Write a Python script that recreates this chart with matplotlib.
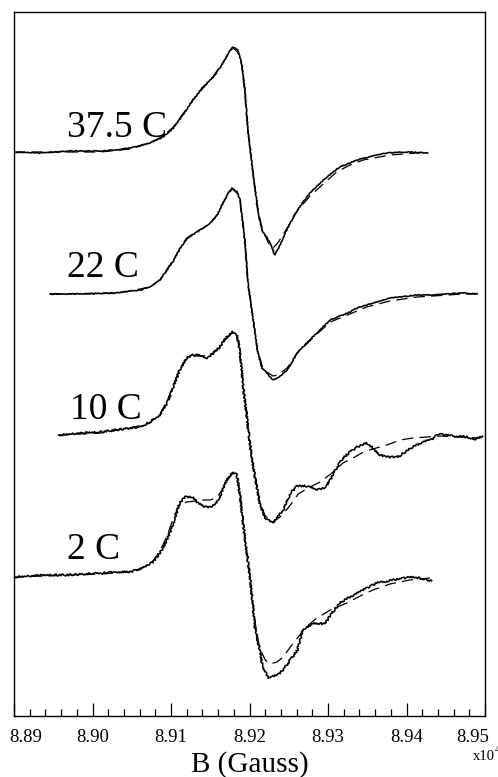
import matplotlib
matplotlib.use("Agg")
import matplotlib.pyplot as plt
from matplotlib.transforms import ScaledTranslation
import numpy as np

plt.rcParams['font.family'] = ['Liberation Serif', 'DejaVu Serif']

# ---------------- data (field in units of 1e4 Gauss, signal in arbitrary units) ----------------
labels = ["37.5 C", "22 C", "10 C", "2 C"]
offsets = [564, 422, 282, 141]

# 37.5 C
b1 = [8.8900, 8.8933, 8.8971, 8.9010, 8.9029, 8.9048, 8.9064, 8.9073, 8.9090, 8.9103, 8.9115, 8.9128,
      8.9141, 8.9154, 8.9165, 8.9173, 8.9179, 8.9185, 8.9190, 8.9194, 8.9198, 8.9204, 8.9211, 8.9216,
      8.9224, 8.9229, 8.9232, 8.9238, 8.9248, 8.9261, 8.9277, 8.9294, 8.9315, 8.9337, 8.9357,
      8.9375, 8.9401, 8.9427]
s1 = [0, -1, 1, 1, 2, 4, 7, 9, 15, 24, 37, 52,
      65, 75, 87, 99, 105, 102, 89, 62, 22, -18, -61, -78,
      -88, -96, -103, -95, -77, -58, -41, -28, -15, -8, -4,
      -1, 0, -1]
b1f = [8.8900, 8.9010, 8.9048, 8.9073, 8.9090, 8.9103, 8.9115, 8.9128, 8.9141, 8.9154, 8.9165, 8.9173,
       8.9179, 8.9185, 8.9190, 8.9194, 8.9198, 8.9204, 8.9211, 8.9216, 8.9224, 8.9230, 8.9236, 8.9248,
       8.9261, 8.9277, 8.9294, 8.9311, 8.9328, 8.9345, 8.9379, 8.9413, 8.9427]
s1f = [0, 0, 3, 9, 16, 25, 38, 52, 64, 76, 88, 98,
       104, 100, 87, 60, 22, -18, -58, -76, -91, -96, -91, -76,
       -59, -44, -32, -20, -13, -8, -3, -1, -1]

# 22 C
b2 = [8.8946, 8.8984, 8.9029, 8.9048, 8.9061, 8.9073, 8.9086, 8.9095, 8.9103, 8.9111, 8.9120, 8.9131,
      8.9141, 8.9150, 8.9159, 8.9165, 8.9173, 8.9178, 8.9184, 8.9188, 8.9194, 8.9198, 8.9203, 8.9210,
      8.9216, 8.9222, 8.9230, 8.9236, 8.9248, 8.9261, 8.9264, 8.9286, 8.9303, 8.9328, 8.9337, 8.9349,
      8.9379, 8.9392, 8.9413, 8.9434, 8.9472, 8.9490]
s2 = [0, 0, 1, 3, 4, 7, 14, 24, 33, 45, 55, 61,
      66, 71, 79, 89, 101, 106, 102, 94, 54, 11, -16, -56,
      -74, -79, -86, -84, -76, -59, -56, -39, -26, -18, -14, -11,
      -4, -3, -1, -1, 1, 0]
b2f = [8.8946, 8.9029, 8.9048, 8.9073, 8.9086, 8.9095, 8.9103, 8.9111, 8.9120, 8.9131, 8.9141, 8.9150,
       8.9159, 8.9165, 8.9173, 8.9178, 8.9184, 8.9188, 8.9194, 8.9198, 8.9203, 8.9210, 8.9216, 8.9222,
       8.9230, 8.9236, 8.9248, 8.9261, 8.9286, 8.9303, 8.9328, 8.9349, 8.9379, 8.9413, 8.9434, 8.9472, 8.9490]
s2f = [0, 1, 3, 7, 14, 25, 34, 45, 56, 62, 66, 71,
       79, 89, 100, 105, 101, 93, 54, 11, -16, -55,
       -72, -78, -82, -81, -74, -59, -40, -28, -20, -13, -7, -3, -2, 0, 0]

# 10 C
b3 = [8.8957, 8.8971, 8.8990, 8.9010, 8.9029, 8.9048, 8.9061, 8.9073, 8.9086, 8.9095, 8.9103, 8.9111,
      8.9120, 8.9128, 8.9137, 8.9146, 8.9154, 8.9162, 8.9171, 8.9179, 8.9184, 8.9188, 8.9192, 8.9197,
      8.9201, 8.9207, 8.9213, 8.9220, 8.9229, 8.9236, 8.9243, 8.9252, 8.9261, 8.9273, 8.9286, 8.9296,
      8.9303, 8.9311, 8.9319, 8.9328, 8.9337, 8.9349, 8.9356, 8.9366, 8.9376, 8.9389, 8.9398, 8.9408,
      8.9421, 8.9434, 8.9440, 8.9459, 8.9477, 8.9485, 8.9494, 8.9497]
s3 = [-1, 0, 1, 2, 4, 6, 7, 12, 19, 31, 47, 64,
      76, 79, 79, 76, 81, 87, 97, 102, 99, 81, 47, 14,
      -13, -43, -69, -84, -89, -83, -76, -59, -52, -52, -56, -54,
      -46, -34, -24, -18, -13, -9, -13, -21, -23, -23, -18, -13,
      -8, -5, 0, -2, -3, -6, -3, -3]
b3f = [8.8957, 8.9010, 8.9048, 8.9073, 8.9086, 8.9095, 8.9103, 8.9111, 8.9120, 8.9131, 8.9141, 8.9150,
       8.9159, 8.9169, 8.9178, 8.9184, 8.9188, 8.9192, 8.9197, 8.9201, 8.9207, 8.9213, 8.9220, 8.9229,
       8.9239, 8.9247, 8.9254, 8.9262, 8.9277, 8.9290, 8.9305, 8.9319, 8.9332, 8.9345, 8.9357, 8.9375,
       8.9392, 8.9408, 8.9426, 8.9443, 8.9468, 8.9494]
s3f = [-1, 1, 6, 11, 20, 33, 49, 65, 75, 78, 78, 79,
       84, 94, 101, 98, 81, 47, 14, -13, -43, -68, -82, -88,
       -83, -76, -69, -60, -53, -48, -39, -29, -24, -18, -15, -11,
       -6, -4, -3, -2, -3, -4]

# 2 C
b4 = [8.8900, 8.8920, 8.8946, 8.8968, 8.8990, 8.9010, 8.9029, 8.9048, 8.9064, 8.9077, 8.9086, 8.9095,
      8.9103, 8.9111, 8.9118, 8.9127, 8.9133, 8.9139, 8.9147, 8.9156, 8.9162, 8.9171, 8.9179, 8.9184,
      8.9188, 8.9194, 8.9201, 8.9207, 8.9213, 8.9217, 8.9224, 8.9230, 8.9236, 8.9243, 8.9252, 8.9261,
      8.9268, 8.9281, 8.9296, 8.9305, 8.9315, 8.9328, 8.9345, 8.9362, 8.9370, 8.9383, 8.9404, 8.9417,
      8.9432]
s4 = [-2, -1, 0, 0, 1, 2, 3, 3, 7, 13, 22, 35,
      52, 72, 78, 78, 73, 70, 67, 70, 78, 95, 103, 100,
      78, 38, -5, -52, -75, -93, -103, -101, -100, -95, -85, -75,
      -55, -48, -49, -38, -28, -22, -15, -8, -7, -5, -2, -3,
      -6]
b4f = [8.8900, 8.9010, 8.9048, 8.9064, 8.9077, 8.9086, 8.9095, 8.9103, 8.9111, 8.9120, 8.9131, 8.9141,
       8.9150, 8.9159, 8.9165, 8.9171, 8.9179, 8.9184, 8.9188, 8.9194, 8.9201, 8.9207, 8.9213, 8.9220,
       8.9226, 8.9235, 8.9243, 8.9252, 8.9261, 8.9271, 8.9284, 8.9303, 8.9324, 8.9341, 8.9357, 8.9379,
       8.9404, 8.9430]
s4f = [-2, 1, 3, 7, 14, 24, 39, 57, 70, 73, 74, 75,
       75, 78, 85, 94, 102, 99, 78, 38, -5, -47, -73, -85,
       -89, -87, -82, -72, -63, -53, -44, -35, -28, -21, -15, -9,
       -5, -3]

solid_b = [b1, b2, b3, b4]
solid_s = [s1, s2, s3, s4]
fit_b = [b1f, b2f, b3f, b4f]
fit_s = [s1f, s2f, s3f, s4f]

xticks = [8.89, 8.90, 8.91, 8.92, 8.93, 8.94, 8.95]
xticklabels = ["8.89", "8.90", "8.91", "8.92", "8.93", "8.94", "8.95"]

# ---------------- figure ----------------
W, H = 498, 777
fig = plt.figure(figsize=(W / 100, H / 100), dpi=100)
ax = fig.add_axes([14 / W, (H - 716) / H, (485 - 14) / W, (716 - 12) / H])

noise = [0.4, 0.4, 0.9, 0.9]
for i in range(4):
    ln, = ax.plot(solid_b[i], np.array(solid_s[i]) + offsets[i], color='black', lw=1.15,
                  solid_joinstyle='round')
    ln.set_sketch_params(scale=noise[i], length=2.5, randomness=3)
    ax.plot(fit_b[i], np.array(fit_s[i]) + offsets[i], color='black', lw=0.9,
            linestyle=(0, (9, 5)))

ax.set_xlim(8.89, 8.95)
ax.set_ylim(0, 704)
ax.set_yticks([])
ax.set_xticks(xticks, xticklabels)
ax.xaxis.set_minor_locator(matplotlib.ticker.MultipleLocator(0.002))
ax.tick_params(axis='x', which='major', direction='in', length=9.5, width=0.9, labelsize=13.5, pad=9)
ax.tick_params(axis='x', which='minor', direction='in', length=5, width=0.9)
for sp in ax.spines.values():
    sp.set_linewidth(1.0)

tl = ax.get_xticklabels()
tl[0].set_transform(tl[0].get_transform() + ScaledTranslation(12 / 100, 0, fig.dpi_scale_trans))
tl[-1].set_transform(tl[-1].get_transform() + ScaledTranslation(-12 / 100, 0, fig.dpi_scale_trans))

label_pos = [(67, 137), (67, 277), (70, 419), (67, 559)]
for lab, (px, py) in zip(labels, label_pos):
    fig.text(px / W, (H - py) / H, lab, fontsize=27, ha='left', va='baseline')

fig.text(250 / W, (H - 772) / H, "B (Gauss)", fontsize=21, ha='center', va='baseline')
fig.text(473 / W, (H - 760) / H, "x10", fontsize=10.5, ha='left', va='baseline')
fig.text(494.5 / W, (H - 752) / H, "4", fontsize=7, ha='left', va='baseline')

fig.savefig("out.png", dpi=100)
